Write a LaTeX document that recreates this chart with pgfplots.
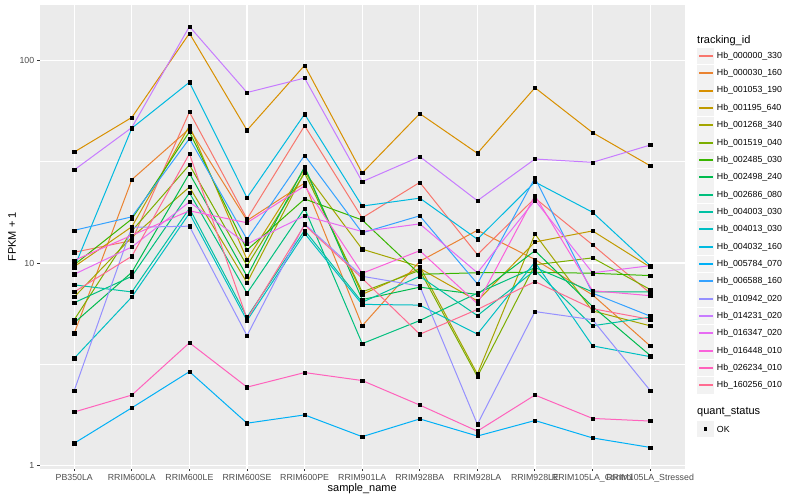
\documentclass[border=0pt]{standalone}
\usepackage{fontspec}
\setmainfont{Liberation Sans}
\usepackage{pgfplots}
\usepackage{pgfplotstable}
\pgfplotsset{compat=1.18}
\definecolor{c1}{HTML}{F8766D}
\definecolor{c2}{HTML}{EA8331}
\definecolor{c3}{HTML}{D89000}
\definecolor{c4}{HTML}{C09B00}
\definecolor{c5}{HTML}{A3A500}
\definecolor{c6}{HTML}{7CAE00}
\definecolor{c7}{HTML}{39B600}
\definecolor{c8}{HTML}{00BB4E}
\definecolor{c9}{HTML}{00BF7D}
\definecolor{c10}{HTML}{00C1A3}
\definecolor{c11}{HTML}{00BFC4}
\definecolor{c12}{HTML}{00BAE0}
\definecolor{c13}{HTML}{00B0F6}
\definecolor{c14}{HTML}{35A2FF}
\definecolor{c15}{HTML}{9590FF}
\definecolor{c16}{HTML}{C77CFF}
\definecolor{c17}{HTML}{E76BF3}
\definecolor{c18}{HTML}{FA62DB}
\definecolor{c19}{HTML}{FF62BC}
\definecolor{c20}{HTML}{FF6C91}
\definecolor{panelbg}{HTML}{EBEBEB}
\definecolor{keybg}{HTML}{F2F2F2}
\definecolor{gray30}{HTML}{4D4D4D}
\definecolor{gray20}{HTML}{333333}
\pgfplotstableread{
x s1 s2 s3 s4 s5 s6 s7 s8 s9 s10 s11 s12 s13 s14 s15 s16 s17 s18 s19 s20
0 11.3 4.5 35.3 9.6 6.8 5.25 9.8 5.07 6.37 7.8 3.39 9.5 1.29 14.5 2.35 28.8 8.8 10.3 1.84 7.2
1 12.9 25.8 52.3 15.1 13.4 14.4 16.5 9.0 8.6 7.2 6.8 46.3 1.93 16.9 15.0 46.6 12.0 13.7 2.23 10.8
2 55.6 46.0 136 47.5 23.7 30.5 44.4 27.7 22.2 18.6 17.6 78 2.91 41.1 15.2 147 20.0 18.1 4.04 34.6
3 16.5 16.2 45.2 10.4 8.0 9.7 11.6 8.6 7.1 5.4 5.2 21.0 1.62 13.1 4.38 69.4 12.4 15.8 2.44 5.3
4 47.6 24.8 94.5 29.1 28.2 27.8 20.7 29.9 18.6 14.5 14.0 54.3 1.78 34.0 15.6 81.8 17.1 24.0 2.88 15.4
5 16.7 4.9 27.8 7.0 11.7 7.2 16.3 6.6 4.0 6.4 6.25 19.1 1.39 14.1 8.6 25.2 14.3 8.9 2.63 8.4
6 25.0 10.2 54.6 9.4 9.6 9.2 8.8 7.6 5.2 8.6 6.2 20.9 1.70 17.1 7.7 33.5 15.6 11.5 1.99 4.45
7 11.0 14.5 34.8 6.5 2.83 2.75 8.95 7.0 7.1 5.5 4.46 13.1 1.40 7.9 1.60 20.3 8.95 6.3 1.48 5.9
8 20.9 10.4 73.3 12.7 13.9 9.8 9.0 11.5 9.5 9.2 10.1 25.1 1.67 26.3 5.76 32.6 20.4 21.5 2.23 8.1
9 12.3 6.96 44.0 14.4 5.8 10.6 8.9 6.1 7.2 4.9 3.9 17.8 1.37 7.1 5.25 31.4 8.95 7.3 1.71 5.95
10 7.1 3.9 30.2 9.55 4.9 7.4 8.67 3.5 7.2 5.4 3.45 9.7 1.23 5.47 2.35 38.2 9.7 6.9 1.66 5.27
}\datatable
\begin{document}
\begin{tikzpicture}
\useasboundingbox (-39.7bp,-31.5bp) rectangle (760.3bp,468.5bp);
\begin{axis}[
  at={(0,0)}, anchor=south west,
  width=645bp, height=463bp, scale only axis,
  xmin=-0.6, xmax=10.6,
  ymode=log, log basis y=10,
  ymin=0.968, ymax=186.6,
  axis background/.style={fill=panelbg},
  axis line style={draw=none},
  xtick={0,1,2,3,4,5,6,7,8,9,10},
  xticklabels={PB350LA,RRIM600LA,RRIM600LE,RRIM600SE,RRIM600PE,RRIM901LA,RRIM928BA,RRIM928LA,RRIM928LE,RRIM105LA\_Control,RRIM105LA\_Stressed},
  ytick={1,10,100}, yticklabels={1,10,100},
  minor ytick={3.1623,31.623},
  minor xtick={},
  grid=both,
  major grid style={white, line width=1.07bp},
  minor grid style={white, line width=0.53bp},
  tick pos=left,
  tick align=outside,
  major tick length=2.75bp,
  minor tick length=0pt,
  tick style={gray20, line width=1bp},
  xticklabel style={font=\fontsize{8.8bp}{10bp}\selectfont, text=gray30, anchor=north, inner sep=0pt, text height=6.4bp, text depth=0pt, yshift=-2.2bp},
  yticklabel style={font=\fontsize{8.8bp}{10bp}\selectfont, text=gray30, anchor=east, inner sep=0pt, xshift=-2.5bp},
  xlabel={sample\_name},
  ylabel={FPKM + 1},
  xlabel style={font=\fontsize{11bp}{13bp}\selectfont, at={(axis description cs:0.5,-0.0443)}, anchor=center, inner sep=0pt},
  ylabel style={font=\fontsize{11bp}{13bp}\selectfont, at={(axis description cs:-0.0429,0.5)}, anchor=center, inner sep=0pt, rotate=0},
]
\pgfplotsinvokeforeach{1,...,20}{
  \addplot[color=c#1, line width=1bp, no marks] table[x=x, y=s#1] {\datatable};
}
\pgfplotsinvokeforeach{1,...,20}{
  \addplot[only marks, mark=square*, mark size=1.6bp, black] table[x=x, y=s#1] {\datatable};
}
\end{axis}
% legend
\node[anchor=west, inner sep=0pt, font=\fontsize{11bp}{13bp}\selectfont] at (657.3bp,428bp) {tracking\_id};
\foreach \k in {1,...,20} {
  \pgfmathsetmacro{\yy}{412.5-17.34*(\k-1)}
  \fill[keybg] (657.6bp,\yy bp-8.37bp) rectangle (674.3bp,\yy bp+8.37bp);
  \fill[c\k] (658.8bp,\yy bp-1bp) rectangle (673.1bp,\yy bp+1bp);
}
\foreach \nm [count=\i from 0] in {Hb\_000000\_330, Hb\_000030\_160, Hb\_001053\_190, Hb\_001195\_640, Hb\_001268\_340, Hb\_001519\_040, Hb\_002485\_030, Hb\_002498\_240, Hb\_002686\_080, Hb\_004003\_030, Hb\_004013\_030, Hb\_004032\_160, Hb\_005784\_070, Hb\_006588\_160, Hb\_010942\_020, Hb\_014231\_020, Hb\_016347\_020, Hb\_016448\_010, Hb\_026234\_010, Hb\_160256\_010} {
  \pgfmathsetmacro{\yy}{412.5-17.34*\i}
  \node[anchor=west, inner sep=0pt, font=\fontsize{8.8bp}{10bp}\selectfont] at (677bp,\yy bp) {\nm};
}
\node[anchor=west, inner sep=0pt, font=\fontsize{11bp}{13bp}\selectfont] at (657.3bp,56.2bp) {quant\_status};
\fill[keybg] (657.6bp,39.5bp-8.37bp) rectangle (674.3bp,39.5bp+8.37bp);
\fill[black] (664.4bp,37.9bp) rectangle (667.6bp,41.1bp);
\node[anchor=west, inner sep=0pt, font=\fontsize{8.8bp}{10bp}\selectfont] at (677bp,39.5bp) {OK};
\end{tikzpicture}
\end{document}
